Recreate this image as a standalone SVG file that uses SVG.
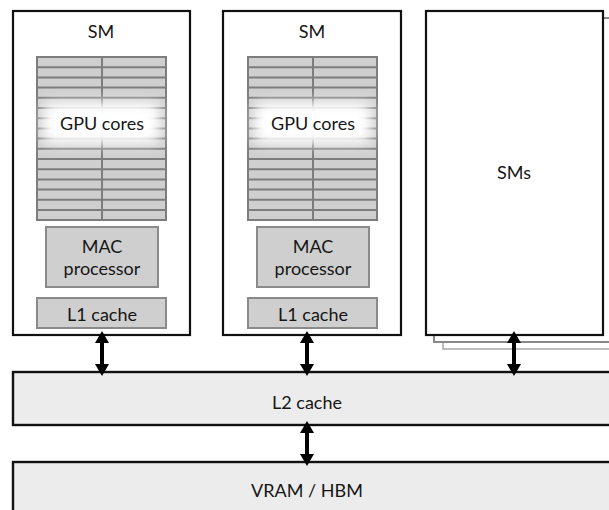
<svg xmlns="http://www.w3.org/2000/svg" width="609" height="510" viewBox="0 0 609 510">
<style>
text{font-family:Lato,"Open Sans","Liberation Sans",sans-serif;fill:#161616;text-anchor:middle;dominant-baseline:central}
.sm{fill:#fff;stroke:#111;stroke-width:2.2}
.grid{fill:#cfcfcf;stroke:#7d7d7d;stroke-width:2}
.gl{stroke:#7d7d7d;stroke-width:2}
.blk{fill:#cfcfcf;stroke:#8a8a8a;stroke-width:2}
.bus{fill:#ececec;stroke:#111;stroke-width:2.4}
.conn{stroke:#000;stroke-width:4;fill:none;marker-start:url(#ah);marker-end:url(#ah)}
.t17{font-size:18px}
</style>
<defs>
<marker id="ah" markerUnits="userSpaceOnUse" viewBox="0 0 14 14" refX="3" refY="7" markerWidth="14" markerHeight="14" orient="auto-start-reverse">
<path d="M0,0 L12,7 L0,14 Z" fill="#000"/>
</marker>
<filter id="blur" x="-50%" y="-100%" width="200%" height="300%"><feGaussianBlur stdDeviation="7"/></filter>
<g id="cores">
<rect class="grid" x="0" y="0" width="129" height="163"/>
<path class="gl" d="M65,0V163M0,10.2H129M0,20.4H129M0,30.6H129M0,40.8H129M0,51H129M0,61.2H129M0,71.4H129M0,81.6H129M0,91.8H129M0,102H129M0,112.2H129M0,122.4H129M0,132.6H129M0,142.8H129M0,153H129"/>
<rect x="6" y="46" width="117" height="40" fill="#fff" filter="url(#blur)"/>
<rect x="16" y="53" width="97" height="26" fill="#fff" filter="url(#blur)"/>
</g>
</defs>

<g id="sms-stack">
<rect x="443" y="25" width="200" height="324" fill="#fff" stroke="#bdbdbd" stroke-width="2"/>
<rect x="434" y="18" width="200" height="324" fill="#fff" stroke="#888" stroke-width="2"/>
<rect class="sm" x="426" y="11" width="177" height="324"/>
<text class="t17" x="514" y="172">SMs</text>
</g>

<g id="sm1">
<rect class="sm" x="13" y="11" width="177" height="324"/>
<text class="t17" x="101" y="31">SM</text>
<use href="#cores" x="37" y="57"/>
<text class="t17" x="102" y="123">GPU cores</text>
<rect class="blk" x="46" y="227" width="112" height="60"/>
<text class="t17" x="102" y="246">MAC</text>
<text class="t17" x="102" y="268">processor</text>
<rect class="blk" x="37" y="298" width="129" height="30"/>
<text class="t17" x="102" y="314">L1 cache</text>
</g>

<g id="sm2">
<rect class="sm" x="223" y="11" width="178" height="324"/>
<text class="t17" x="312" y="31">SM</text>
<use href="#cores" x="248" y="57"/>
<text class="t17" x="313" y="123">GPU cores</text>
<rect class="blk" x="257" y="227" width="112" height="60"/>
<text class="t17" x="313" y="246">MAC</text>
<text class="t17" x="313" y="268">processor</text>
<rect class="blk" x="248" y="298" width="129" height="30"/>
<text class="t17" x="313" y="314">L1 cache</text>
</g>

<g id="l2">
<rect class="bus" x="13" y="372" width="610" height="53"/>
<text class="t17" x="307" y="402">L2 cache</text>
</g>

<g id="vram">
<rect class="bus" x="13" y="462" width="610" height="60"/>
<text class="t17" x="307" y="490">VRAM / HBM</text>
</g>

<g id="connectors">
<line class="conn" x1="102" y1="340" x2="102" y2="367"/>
<line class="conn" x1="307" y1="340" x2="307" y2="367"/>
<line class="conn" x1="514" y1="340" x2="514" y2="367"/>
<line class="conn" x1="307" y1="430" x2="307" y2="457"/>
</g>
</svg>
